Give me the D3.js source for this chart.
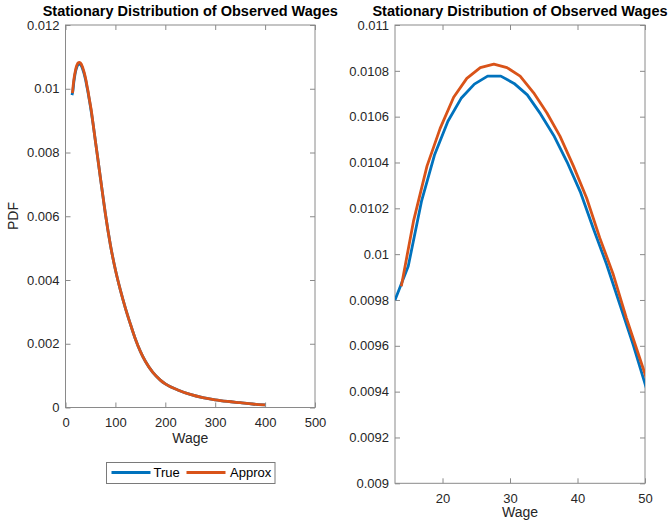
<!DOCTYPE html>
<html>
<head>
<meta charset="utf-8">
<script src="https://cdn.jsdelivr.net/npm/d3@7"></script>
<style>
  html, body { margin: 0; padding: 0; background: #fff; }
  svg { display: block; font-family: "Liberation Sans", Arial, Helvetica, sans-serif; }
</style>
</head>
<body>
<svg id="chart" width="672" height="521"></svg>
<script>
// ---- data ----
const trueWage = [12.96, 14.92, 16.88, 18.84, 20.80, 22.76, 24.72, 26.68, 28.64, 30.60,
                  32.56, 34.52, 36.48, 38.44, 40.40, 42.36, 44.32, 46.28, 48.24, 50.20];
const truePdf  = [0.009800, 0.009947, 0.010230, 0.010435, 0.010580, 0.010680, 0.010742, 0.010777, 0.010777, 0.010745,
                  0.010695, 0.010612, 0.010518, 0.010403, 0.010273, 0.010111, 0.009955, 0.009780, 0.009605, 0.009415];
const approxWage = [13.90, 15.70, 17.70, 19.65, 21.65, 23.60, 25.60, 27.60, 29.55, 31.50,
                    33.50, 35.45, 37.40, 39.40, 41.35, 43.30, 45.30, 47.25, 49.20, 51.20];
const approxPdf  = [0.009860, 0.010144, 0.010384, 0.010549, 0.010685, 0.010767, 0.010814, 0.010829, 0.010814, 0.010777,
                    0.010704, 0.010617, 0.010515, 0.010384, 0.010245, 0.010071, 0.009911, 0.009721, 0.009548, 0.009370];
const tailWage = [55, 60, 65, 70, 75, 80, 90, 100, 110, 120, 130, 140, 150, 160, 175, 190, 200,
                  225, 250, 275, 300, 325, 350, 375, 400];
const tailPdf  = [0.00893, 0.00835, 0.00778, 0.00720, 0.00663, 0.00607, 0.00510, 0.00432, 0.00368, 0.00312,
                  0.00262, 0.00215, 0.00176, 0.00145, 0.00110, 0.00086, 0.00074,
                  0.00055, 0.00041, 0.00031, 0.00024, 0.00019, 0.00015, 0.00011, 0.00008];

const seriesNames = ["True", "Approx"];
const seriesColors = ["#0072BD", "#D95319"];

const leftXTicks = [0, 100, 200, 300, 400, 500];
const leftYTicks = [0, 0.002, 0.004, 0.006, 0.008, 0.01, 0.012];
const rightXTicks = [20, 30, 40, 50];
const rightYTicks = [0.009, 0.0092, 0.0094, 0.0096, 0.0098, 0.01, 0.0102, 0.0104, 0.0106, 0.0108, 0.011];

const titleText = "Stationary Distribution of Observed Wages";
const xLabel = "Wage";
const yLabel = "PDF";

// ---- build series ----
const toPts = (w, p) => w.map((d, i) => ({ x: d, y: p[i] }));
const series = [
  toPts(trueWage.concat(tailWage), truePdf.concat(tailPdf)),
  toPts(approxWage.concat(tailWage), approxPdf.concat(tailPdf))
];

const svg = d3.select("#chart");
const axisColor = "#262626";
const boxColor = "#8a8a8a";
const fmt = d3.format(".4~f");

function panel(cfg) {
  const { x0, x1, y0, y1, xDomain, yDomain, xTicks, yTicks, curve, id, xLabelY } = cfg;
  const x = d3.scaleLinear().domain(xDomain).range([x0, x1]);
  const y = d3.scaleLinear().domain(yDomain).range([y1, y0]);
  const g = svg.append("g");

  g.append("clipPath").attr("id", id).append("rect")
    .attr("x", x0).attr("y", y0).attr("width", x1 - x0).attr("height", y1 - y0);

  const styleAxis = sel => {
    sel.select(".domain").remove();
    sel.selectAll(".tick line").attr("stroke", boxColor);
    sel.selectAll(".tick text").attr("fill", axisColor).style("font-size", "13px");
  };

  g.append("g").attr("transform", `translate(0,${y1})`)
    .call(d3.axisBottom(x).tickValues(xTicks).tickFormat(d3.format("d")).tickSize(-5).tickPadding(10))
    .call(styleAxis);
  g.append("g").attr("transform", `translate(0,${y0})`)
    .call(d3.axisTop(x).tickValues(xTicks).tickFormat("").tickSize(-5))
    .call(styleAxis);
  g.append("g").attr("transform", `translate(${x0},0)`)
    .call(d3.axisLeft(y).tickValues(yTicks).tickFormat(fmt).tickSize(-5).tickPadding(6))
    .call(styleAxis);
  g.append("g").attr("transform", `translate(${x1},0)`)
    .call(d3.axisRight(y).tickValues(yTicks).tickFormat("").tickSize(-5))
    .call(styleAxis);

  g.selectAll(".tick text").attr("font-family", null);

  g.append("rect").attr("x", x0).attr("y", y0).attr("width", x1 - x0).attr("height", y1 - y0)
    .attr("fill", "none").attr("stroke", boxColor).attr("stroke-width", 1);

  const line = d3.line().x(d => x(d.x)).y(d => y(d.y)).curve(curve);
  const lines = g.append("g").attr("clip-path", `url(#${id})`);
  series.forEach((s, i) => {
    lines.append("path").datum(s)
      .attr("d", line)
      .attr("fill", "none")
      .attr("stroke", seriesColors[i])
      .attr("stroke-width", 2.8)
      .attr("stroke-linejoin", "round");
  });

  g.append("text").attr("x", (x0 + x1) / 2).attr("y", 16)
    .attr("text-anchor", "middle").attr("font-weight", "bold")
    .style("font-size", "14.5px").attr("fill", "#000").text(titleText);

  g.append("text").attr("x", (x0 + x1) / 2).attr("y", xLabelY)
    .attr("text-anchor", "middle").style("font-size", "14px")
    .attr("fill", axisColor).text(xLabel);
  return { x, y, g };
}

panel({ id: "clipL", x0: 65.5, x1: 315, y0: 25, y1: 407.5,
        xDomain: [0, 500], yDomain: [0, 0.012], xTicks: leftXTicks, yTicks: leftYTicks,
        curve: d3.curveMonotoneX, xLabelY: 443 });
panel({ id: "clipR", x0: 395, x1: 645, y0: 25, y1: 483.3,
        xDomain: [12.96, 50], yDomain: [0.009, 0.011], xTicks: rightXTicks, yTicks: rightYTicks,
        curve: d3.curveLinear, xLabelY: 517 });

// y label
svg.append("text").attr("transform", "translate(18,216) rotate(-90)")
  .attr("text-anchor", "middle").style("font-size", "14px")
  .attr("fill", axisColor).text(yLabel);

// legend
const leg = svg.append("g");
leg.append("rect").attr("x", 106.5).attr("y", 462.5).attr("width", 168.5).attr("height", 21)
  .attr("fill", "#fff").attr("stroke", "#7a7a7a").attr("stroke-width", 1);
const legItems = [{ lx: 111.5, tx: 153.5 }, { lx: 186.5, tx: 230 }];
seriesNames.forEach((name, i) => {
  leg.append("line").attr("x1", legItems[i].lx).attr("x2", legItems[i].lx + 39)
    .attr("y1", 472.5).attr("y2", 472.5)
    .attr("stroke", seriesColors[i]).attr("stroke-width", 2.8);
  leg.append("text").attr("x", legItems[i].tx).attr("y", 477)
    .style("font-size", "13px").attr("fill", "#000").text(name);
});
</script>
</body>
</html>
